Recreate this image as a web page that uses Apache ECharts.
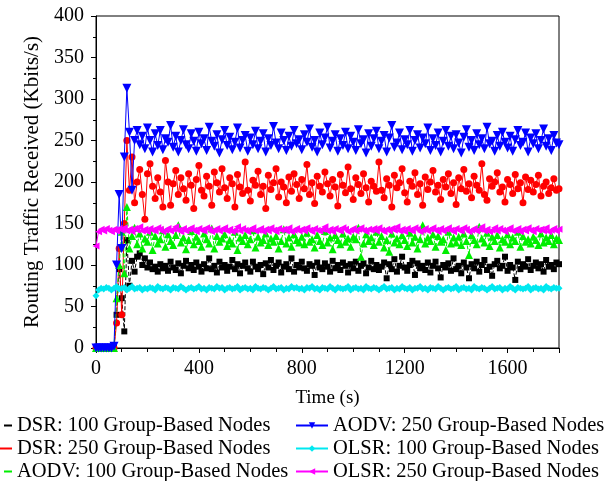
<!DOCTYPE html>
<html><head><meta charset="utf-8">
<script src="https://cdn.jsdelivr.net/npm/echarts@6/dist/echarts.min.js"></script>
<style>html,body{margin:0;padding:0;background:#fff}#c{width:613px;height:481px}</style>
</head><body><div id="c"></div>
<script>
const STEP = 10;
const seriesNames = ["DSR: 100 Group-Based Nodes","DSR: 250 Group-Based Nodes","AODV: 100 Group-Based Nodes","AODV: 250 Group-Based Nodes","OLSR: 100 Group-Based Nodes","OLSR: 250 Group-Based Nodes"];
const xTicks = [0,400,800,1200,1600];
const dsr100 = [0,0,0,0,0,0,0,1,40,95,
60,20,130,75,105,92,110,114,100,108,
97,103,95,98,92,101,96,99,93,104,
97,94,102,90,99,105,96,100,94,103,
98,92,101,96,108,95,99,91,104,97,
100,93,98,106,95,101,90,99,103,96,
92,104,98,95,100,89,102,97,106,94,
99,103,91,98,101,95,108,92,100,97,
104,96,93,101,99,88,103,97,95,102,
98,92,105,96,100,94,103,99,91,101,
96,104,93,99,102,90,97,105,95,100,
94,98,103,84,101,95,107,92,99,110,
97,93,100,105,88,102,96,99,94,103,
91,99,104,96,85,100,97,102,93,108,
95,99,90,103,97,84,101,96,104,92,
100,106,94,98,87,101,105,96,99,110,
93,100,97,82,104,95,101,98,107,94,
99,103,96,101,92,106,98,100,95,103,
101];
const dsr250 = [0,0,0,0,0,0,0,0,30,120,
40,150,250,190,230,175,200,215,185,155,
210,222,195,180,205,188,170,226,200,172,
198,214,185,205,192,178,210,196,168,203,
220,190,183,207,195,172,212,199,188,216,
193,180,205,198,170,209,194,186,224,190,
177,202,196,213,185,195,168,208,191,199,
216,182,200,194,175,206,189,210,197,180,
203,192,221,185,199,174,207,195,188,212,
198,183,203,194,171,209,196,187,218,192,
179,205,197,186,210,193,176,201,195,189,
224,190,181,204,196,170,208,193,199,216,
187,176,201,195,211,185,198,172,206,191,
200,214,188,196,179,203,194,210,186,199,
173,205,192,215,189,198,181,207,196,190,
222,185,178,204,195,200,211,188,194,176,
203,197,186,209,192,199,175,206,191,202,
188,197,208,183,195,200,186,193,204,190,
192];
const aodv100 = [0,0,0,0,0,0,0,0,60,100,
140,90,170,120,135,145,125,138,120,132,
128,140,118,135,126,131,142,122,137,129,
124,136,148,127,133,119,130,141,125,134,
129,122,138,131,126,144,120,135,128,132,
137,123,130,126,140,118,133,129,136,125,
131,142,121,134,127,130,138,124,132,128,
135,120,129,143,126,133,122,137,130,127,
134,125,139,128,131,121,136,129,124,141,
127,133,119,136,130,125,138,128,132,122,
134,131,145,110,126,137,129,133,124,140,
128,135,121,130,116,138,127,132,125,136,
130,123,139,127,134,120,131,148,126,133,
129,137,122,135,128,131,118,140,126,133,
127,134,124,138,129,112,136,130,125,146,
132,127,139,123,134,129,136,121,131,128,
137,125,133,129,140,122,135,128,131,126,
134,130,124,138,127,133,129,136,125,132,
130];
const aodv250 = [0,0,0,0,0,0,0,2,100,185,
120,230,313,260,190,250,262,245,255,240,
265,250,236,258,244,262,239,252,248,268,
242,255,236,250,263,245,240,258,249,237,
260,246,252,238,266,249,243,257,235,251,
262,244,254,239,248,265,241,250,256,237,
253,245,261,240,249,258,236,252,244,267,
247,240,259,250,238,255,243,262,246,251,
239,257,248,264,242,250,236,259,245,253,
266,241,249,257,237,252,244,260,240,255,
248,238,263,246,251,235,258,243,252,261,
240,249,256,236,253,268,242,247,259,239,
251,245,262,237,250,257,241,253,246,265,
238,252,244,259,236,249,262,243,255,240,
257,247,235,254,263,242,250,238,258,245,
252,240,266,246,249,237,256,243,260,248,
241,255,237,251,262,244,248,259,236,253,
246,258,240,250,264,243,252,238,256,247,
245];
const olsr100 = [63,70,72,71,73,72,70,72,74,71,
72,73,70,72,74,71,72,73,70,72,
71,73,72,70,74,72,71,73,72,70,
73,72,71,74,72,70,72,73,71,72,
74,71,72,70,73,72,71,74,72,73,
70,72,73,71,72,74,70,72,73,71,
72,70,74,72,71,73,72,70,72,74,
71,72,73,70,72,71,74,72,73,71,
72,70,73,72,74,71,72,70,73,72,
71,74,72,70,73,72,71,72,74,70,
72,73,71,72,70,74,72,71,73,72,
70,72,74,71,72,73,70,72,71,74,
72,71,73,70,72,72,74,71,72,70,
73,72,71,74,72,70,72,73,71,72,
74,70,72,73,71,72,70,74,72,71,
73,72,70,72,74,71,72,73,70,72,
71,74,72,70,73,72,71,72,74,70,
72,73,71,72,70,74,72,71,73,72,
72];
const olsr250 = [123,140,143,141,144,142,140,143,141,144,
142,145,141,143,140,144,142,146,141,143,
140,144,142,141,145,143,140,142,144,141,
143,146,142,140,144,141,143,145,142,140,
144,142,141,145,143,140,142,144,141,143,
145,141,143,140,142,146,141,144,142,140,
143,145,141,142,144,140,143,141,145,142,
140,144,142,143,141,145,140,142,144,141,
143,141,145,142,140,144,142,141,143,146,
141,143,140,144,142,141,145,143,140,142,
144,141,143,145,142,140,143,142,144,141,
145,142,140,143,141,144,142,146,141,143,
140,144,142,141,145,143,140,142,144,141,
143,145,142,140,144,141,143,145,142,140,
144,142,141,145,143,140,142,144,141,143,
146,141,143,140,142,145,141,144,142,140,
143,145,141,142,144,140,143,141,145,142,
140,144,142,143,141,145,140,142,144,141,
143];

const FONT = "Liberation Serif";
const pair = arr => arr.map((v, i) => [i * STEP, v]);
const styles = [
  {color:'#000000', symbol:'rect', size:6, rot:0, type:'dashed'},
  {color:'#ff0000', symbol:'circle', size:7, rot:0, type:'solid'},
  {color:'#00ee00', symbol:'triangle', size:8, rot:0, type:'dashed'},
  {color:'#0000ff', symbol:'triangle', size:9, rot:180, type:'solid'},
  {color:'#00e8f0', symbol:'diamond', size:7, rot:0, type:'solid'},
  {color:'#ff00ff', symbol:'triangle', size:7, rot:90, type:'solid'}
];
const allData = [dsr100, dsr250, aodv100, aodv250, olsr100, olsr250];
const series = allData.map((d, k) => ({
  name: seriesNames[k], type: 'line', data: pair(d),
  symbol: styles[k].symbol, symbolSize: styles[k].size, symbolRotate: styles[k].rot,
  showAllSymbol: true, animation: false,
  lineStyle: {color: styles[k].color, width: 1, type: styles[k].type},
  itemStyle: {color: styles[k].color},
  z: 2 + k
}));

const legendText = {fontFamily: FONT, fontSize: 20.5, color: '#000'};
const chart = echarts.init(document.getElementById('c'), null, {renderer: 'canvas'});
chart.setOption({
  backgroundColor: '#fff',
  animation: false,
  grid: {left: 96, right: 54, top: 16, bottom: 133, show: true, borderColor: '#000', borderWidth: 1},
  xAxis: {
    type: 'value', min: 0, max: 1800, interval: 400,
    name: 'Time (s)', nameLocation: 'middle', nameGap: 41,
    nameTextStyle: {fontFamily: FONT, fontSize: 19, color: '#000'},
    axisLine: {lineStyle: {color: '#000', width: 1}},
    axisTick: {inside: false, length: 5, lineStyle: {color: '#000'}},
    minorTick: {show: true, splitNumber: 4, length: 4, lineStyle: {color: '#000'}},
    splitLine: {show: false},
    axisLabel: {fontFamily: FONT, fontSize: 20, color: '#000', margin: 11, showMaxLabel: false,
      formatter: v => xTicks.indexOf(v) >= 0 ? String(v) : ''}
  },
  yAxis: {
    type: 'value', min: 0, max: 400, interval: 50,
    name: 'Routing Traffic Received (Kbits/s)', nameLocation: 'middle', nameGap: 50,
    nameTextStyle: {fontFamily: FONT, fontSize: 21, color: '#000'},
    axisLine: {show: true, lineStyle: {color: '#000', width: 1}},
    axisTick: {show: true, inside: false, length: 5, lineStyle: {color: '#000'}},
    minorTick: {show: true, splitNumber: 2, length: 3, lineStyle: {color: '#000'}},
    splitLine: {show: false},
    axisLabel: {fontFamily: FONT, fontSize: 20, color: '#000', margin: 12}
  },
  legend: [
    {data: seriesNames.slice(0,3), orient: 'vertical', left: -21, top: 415, height: 80, padding: 0,
     itemWidth: 32, itemHeight: 8, itemGap: 2, textStyle: legendText},
    {data: seriesNames.slice(3), orient: 'vertical', left: 295, top: 415, height: 80, padding: 0,
     itemWidth: 32, itemHeight: 8, itemGap: 2, textStyle: legendText}
  ],
  series: series
});
</script></body></html>
